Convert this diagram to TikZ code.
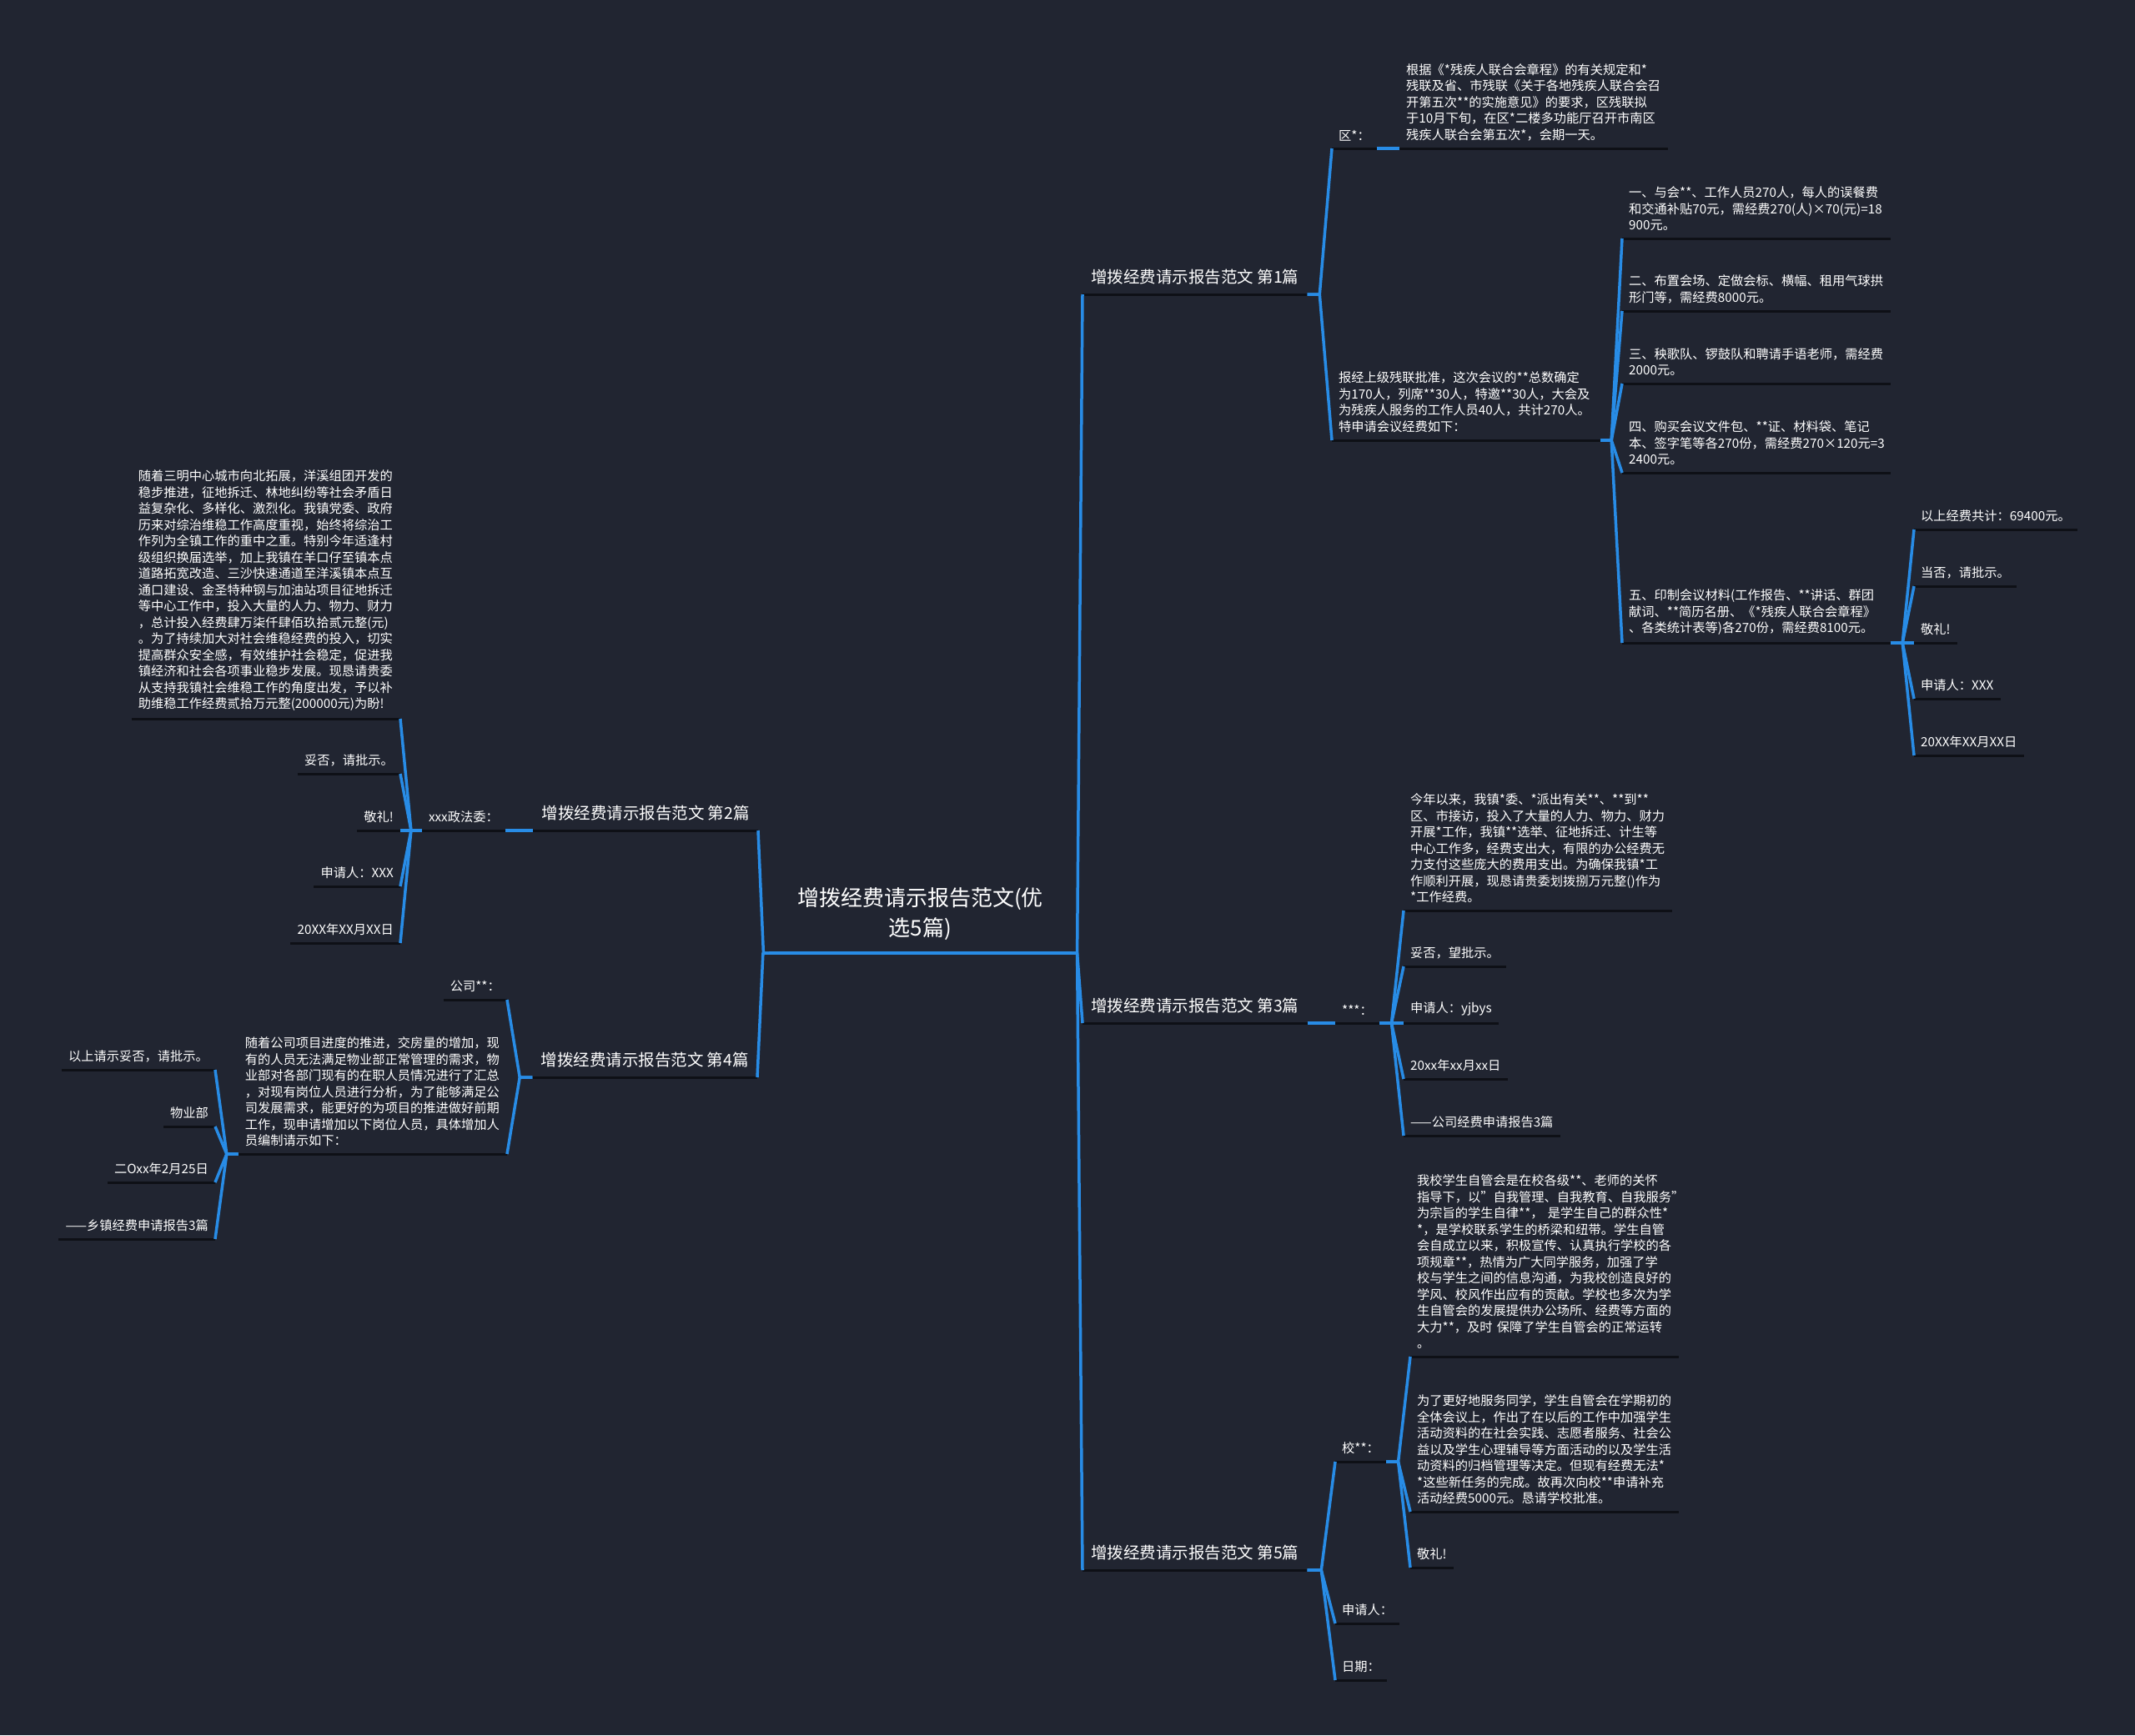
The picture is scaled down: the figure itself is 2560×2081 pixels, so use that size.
\documentclass[tikz,border=0pt]{standalone}
\usepackage{fontspec}
\setmainfont{Noto Sans CJK SC}
\usetikzlibrary{calc}
\definecolor{bgc}{RGB}{33,37,49}
\definecolor{lnblue}{RGB}{40,140,230}
\definecolor{ulc}{RGB}{14,16,22}
\newcommand\lnk[2]{\draw[cline] (#1) -- ($(#1)!0.5!(#1-|#2)$) -- (#2);}
\begin{document}
\begin{tikzpicture}[x=1pt,y=-1pt,
  txt/.style={text=white, inner xsep=8pt, inner ysep=9pt, align=left, font=\fontsize{15.25}{19.5}\selectfont},
  rn/.style={txt, anchor=south west},
  ln/.style={txt, anchor=south east},
  lv1/.style={inner xsep=10pt, inner ysep=12pt, font=\fontsize{19.5}{24}\selectfont},
  wide/.style={text width=306pt},
  uline/.style={draw=ulc, line width=3pt},
  cline/.style={draw=lnblue, line width=3.5pt, line join=round},
]
\fill[bgc] (0,0) rectangle (2560,2081);
\useasboundingbox (0,0) rectangle (2560,2081);

% root
\node[text=white, align=center, font=\fontsize{26}{36}\selectfont, minimum width=363pt, inner xsep=0pt, inner ysep=15pt, anchor=south] (root) at (1103.5,1143) {增拨经费请示报告范文(优\\选5篇)};

% level 1
\node[rn,lv1] (p1) at (1298,353) {增拨经费请示报告范文 第1篇};
\node[rn,lv1] (p3) at (1298,1227) {增拨经费请示报告范文 第3篇};
\node[rn,lv1] (p5) at (1298,1883) {增拨经费请示报告范文 第5篇};
\node[ln,lv1] (p2) at (909,996) {增拨经费请示报告范文 第2篇};
\node[ln,lv1] (p4) at (908,1292) {增拨经费请示报告范文 第4篇};

% branch 1
\node[rn] (p1a) at (1597,178) {区*：};
\node[rn,wide] (p1at) at (1678,178) {根据《*残疾人联合会章程》的有关规定和*\\残联及省、市残联《关于各地残疾人联合会召\\开第五次**的实施意见》的要求，区残联拟\\于10月下旬，在区*二楼多功能厅召开市南区\\残疾人联合会第五次*，会期一天。};
\node[rn,wide] (p1b) at (1597,528) {报经上级残联批准，这次会议的**总数确定\\为170人，列席**30人，特邀**30人，大会及\\为残疾人服务的工作人员40人，共计270人。\\特申请会议经费如下：};
\node[rn,wide] (p1b1) at (1945,286) {一、与会**、工作人员270人，每人的误餐费\\和交通补贴70元，需经费270(人)×70(元)=18\\900元。};
\node[rn,wide] (p1b2) at (1945,373) {二、布置会场、定做会标、横幅、租用气球拱\\形门等，需经费8000元。};
\node[rn,wide] (p1b3) at (1945,460) {三、秧歌队、锣鼓队和聘请手语老师，需经费\\2000元。};
\node[rn,wide] (p1b4) at (1945,567) {四、购买会议文件包、**证、材料袋、笔记\\本、签字笔等各270份，需经费270×120元=3\\2400元。};
\node[rn,wide] (p1b5) at (1945,771) {五、印制会议材料(工作报告、**讲话、群团\\献词、**简历名册、《*残疾人联合会章程》\\、各类统计表等)各270份，需经费8100元。};
\node[rn] (p1b5a) at (2295,635) {以上经费共计：69400元。};
\node[rn] (p1b5b) at (2295,703) {当否，请批示。};
\node[rn] (p1b5c) at (2295,771) {敬礼!};
\node[rn] (p1b5d) at (2295,838) {申请人：XXX};
\node[rn] (p1b5e) at (2295,906) {20XX年XX月XX日};

% branch 3
\node[rn] (p3a) at (1601,1227) {***：};
\node[rn,wide] (p3a1) at (1683,1092) {今年以来，我镇*委、*派出有关**、**到**\\区、市接访，投入了大量的人力、物力、财力\\开展*工作，我镇**选举、征地拆迁、计生等\\中心工作多，经费支出大，有限的办公经费无\\力支付这些庞大的费用支出。为确保我镇*工\\作顺利开展，现恳请贵委划拨捌万元整()作为\\{}*工作经费。};
\node[rn] (p3a2) at (1683,1159) {妥否，望批示。};
\node[rn] (p3a3) at (1683,1227) {申请人：yjbys};
\node[rn] (p3a4) at (1683,1294) {20xx年xx月xx日};
\node[rn] (p3a5) at (1683,1362) {——公司经费申请报告3篇};

% branch 5
\node[rn] (p5a) at (1601,1753) {校**：};
\node[rn] (p5b) at (1601,1947) {申请人：};
\node[rn] (p5c) at (1601,2015) {日期：};
\node[rn,wide] (p5a1) at (1691,1627) {我校学生自管会是在校各级**、老师的关怀\\指导下，以"自我管理、自我教育、自我服务"\\为宗旨的学生自律**， 是学生自己的群众性*\\{}*，是学校联系学生的桥梁和纽带。学生自管\\会自成立以来，积极宣传、认真执行学校的各\\项规章**，热情为广大同学服务，加强了学\\校与学生之间的信息沟通，为我校创造良好的\\学风、校风作出应有的贡献。学校也多次为学\\生自管会的发展提供办公场所、经费等方面的\\大力**，及时 保障了学生自管会的正常运转\\。};
\node[rn,wide] (p5a2) at (1691,1813) {为了更好地服务同学，学生自管会在学期初的\\全体会议上，作出了在以后的工作中加强学生\\活动资料的在社会实践、志愿者服务、社会公\\益以及学生心理辅导等方面活动的以及学生活\\动资料的归档管理等决定。但现有经费无法*\\{}*这些新任务的完成。故再次向校**申请补充\\活动经费5000元。恳请学校批准。};
\node[rn] (p5a3) at (1691,1880) {敬礼!};

% branch 2
\node[ln] (p2a) at (606,996) {xxx政法委：};
\node[ln,wide] (p2a1) at (480,862) {随着三明中心城市向北拓展，洋溪组团开发的\\稳步推进，征地拆迁、林地纠纷等社会矛盾日\\益复杂化、多样化、激烈化。我镇党委、政府\\历来对综治维稳工作高度重视，始终将综治工\\作列为全镇工作的重中之重。特别今年适逢村\\级组织换届选举，加上我镇在羊口仔至镇本点\\道路拓宽改造、三沙快速通道至洋溪镇本点互\\通口建设、金圣特种钢与加油站项目征地拆迁\\等中心工作中，投入大量的人力、物力、财力\\，总计投入经费肆万柒仟肆佰玖拾贰元整(元)\\。为了持续加大对社会维稳经费的投入，切实\\提高群众安全感，有效维护社会稳定，促进我\\镇经济和社会各项事业稳步发展。现恳请贵委\\从支持我镇社会维稳工作的角度出发，予以补\\助维稳工作经费贰拾万元整(200000元)为盼!};
\node[ln] (p2a2) at (480,928) {妥否，请批示。};
\node[ln] (p2a3) at (480,996) {敬礼!};
\node[ln] (p2a4) at (480,1063) {申请人：XXX};
\node[ln] (p2a5) at (480,1131) {20XX年XX月XX日};

% branch 4
\node[ln] (p4a) at (608,1199) {公司**：};
\node[ln,wide] (p4b) at (608,1384) {随着公司项目进度的推进，交房量的增加，现\\有的人员无法满足物业部正常管理的需求，物\\业部对各部门现有的在职人员情况进行了汇总\\，对现有岗位人员进行分析，为了能够满足公\\司发展需求，能更好的为项目的推进做好前期\\工作，现申请增加以下岗位人员，具体增加人\\员编制请示如下：};
\node[ln] (p4b1) at (258,1283) {以上请示妥否，请批示。};
\node[ln] (p4b2) at (258,1351) {物业部};
\node[ln] (p4b3) at (258,1418) {二Oxx年2月25日};
\node[ln] (p4b4) at (258,1486) {——乡镇经费申请报告3篇};

% underlines
\foreach \n in {p1,p2,p3,p4,p5,p1a,p1at,p1b,p1b1,p1b2,p1b3,p1b4,p1b5,p1b5a,p1b5b,p1b5c,p1b5d,p1b5e,p3a,p3a1,p3a2,p3a3,p3a4,p3a5,p5a,p5b,p5c,p5a1,p5a2,p5a3,p2a,p2a1,p2a2,p2a3,p2a4,p2a5,p4a,p4b,p4b1,p4b2,p4b3,p4b4}
  {\draw[uline] (\n.south west) -- (\n.south east);}
\draw[cline, line width=4pt] (root.south west) -- (root.south east);

% connectors right
\foreach \c in {p1,p3,p5} {\lnk{root.south east}{\c.south west}}
\foreach \c in {p1a,p1b} {\lnk{p1.south east}{\c.south west}}
\lnk{p1a.south east}{p1at.south west}
\foreach \c in {p1b1,p1b2,p1b3,p1b4,p1b5} {\lnk{p1b.south east}{\c.south west}}
\foreach \c in {p1b5a,p1b5b,p1b5c,p1b5d,p1b5e} {\lnk{p1b5.south east}{\c.south west}}
\lnk{p3.south east}{p3a.south west}
\foreach \c in {p3a1,p3a2,p3a3,p3a4,p3a5} {\lnk{p3a.south east}{\c.south west}}
\foreach \c in {p5a,p5b,p5c} {\lnk{p5.south east}{\c.south west}}
\foreach \c in {p5a1,p5a2,p5a3} {\lnk{p5a.south east}{\c.south west}}
% connectors left
\foreach \c in {p2,p4} {\lnk{root.south west}{\c.south east}}
\lnk{p2.south west}{p2a.south east}
\foreach \c in {p2a1,p2a2,p2a3,p2a4,p2a5} {\lnk{p2a.south west}{\c.south east}}
\foreach \c in {p4a,p4b} {\lnk{p4.south west}{\c.south east}}
\foreach \c in {p4b1,p4b2,p4b3,p4b4} {\lnk{p4b.south west}{\c.south east}}
\end{tikzpicture}
\end{document}
